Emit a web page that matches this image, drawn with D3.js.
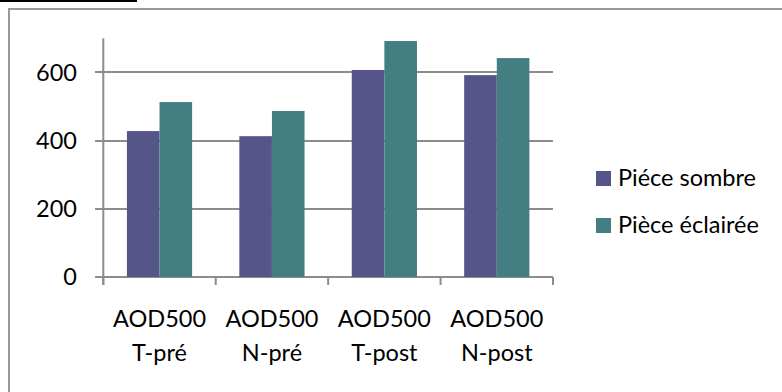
<!DOCTYPE html>
<html><head><meta charset="utf-8">
<script src="https://cdn.jsdelivr.net/npm/d3@7"></script>
<style>html,body{margin:0;padding:0;background:#fff;}svg{display:block;}</style>
</head><body>
<script>
const categories = [["AOD500","T-pré"],["AOD500","N-pré"],["AOD500","T-post"],["AOD500","N-post"]];
const seriesNames = ["Piéce sombre","Pièce éclairée"];
const sombre = [428, 413, 607, 592];
const eclairee = [513, 487, 692, 642];
const yTicks = [0, 200, 400, 600];
const colors = ["#55558A", "#437E83"];

const W = 782, H = 392;
const svg = d3.select("body").append("svg").attr("width", W).attr("height", H);
const font = "Lato, 'Open Sans', sans-serif";
const fs = 23.5;

// page decoration: cropped header underline and chart frame
svg.append("rect").attr("x",0).attr("y",0).attr("width",137).attr("height",2).attr("fill","#000");
svg.append("path").attr("d", "M9,400 V9 H800").attr("fill","none").attr("stroke","#9a9a9a").attr("stroke-width",2);

const x0 = 103.3, x1 = 553, yTop = 38.3, yBot = 277;
const y = d3.scaleLinear().domain([0,700]).range([yBot, yTop]);
const xb = d3.scaleBand().domain(d3.range(categories.length)).range([x0, x1]).paddingInner(0.42).paddingOuter(0.21);
const xs = d3.scaleBand().domain([0,1]).range([0, xb.bandwidth()]);
const gridC = "#8c8c8c";

// gridlines + y ticks
const g = svg.append("g");
g.selectAll("line.grid").data(yTicks).join("line")
  .attr("x1", 95).attr("x2", x1).attr("y1", d => Math.round(y(d))).attr("y2", d => Math.round(y(d)))
  .attr("stroke", gridC).attr("stroke-width", 2);
g.selectAll("text.yl").data(yTicks).join("text")
  .attr("x", 77).attr("y", d => y(d)).attr("dy", "0.36em").attr("text-anchor","end")
  .attr("font-family", font).attr("font-size", fs).attr("fill","#000").text(d => d);

// bars
const data = [sombre, eclairee];
data.forEach((vals, si) => {
  svg.append("g").selectAll("rect").data(vals).join("rect")
    .attr("x", (d,i) => xb(i) + xs(si)).attr("width", xs.bandwidth())
    .attr("y", d => y(d)).attr("height", d => y(0) - y(d))
    .attr("fill", colors[si]);
});

// axes lines
svg.append("line").attr("x1", x0).attr("x2", x0).attr("y1", yTop).attr("y2", 285).attr("stroke", gridC).attr("stroke-width", 2);
const bounds = d3.range(categories.length + 1).map(i => x0 + i * (x1 - x0) / categories.length);
svg.selectAll("line.xt").data(bounds).join("line")
  .attr("x1", d => d).attr("x2", d => d).attr("y1", yBot).attr("y2", 285)
  .attr("stroke", gridC).attr("stroke-width", 2);

// x labels
const xl = svg.append("g").selectAll("text").data(categories).join("text")
  .attr("x", (d,i) => xb(i) + xb.bandwidth()/2).attr("y", 327)
  .attr("text-anchor","middle").attr("font-family", font).attr("font-size", fs).attr("fill","#000");
xl.selectAll("tspan").data(d => d).join("tspan")
  .attr("x", function(){ return this.parentNode.getAttribute("x"); })
  .attr("dy", (d,i) => i === 0 ? 0 : 33.5).text(d => d);

// legend
const lg = svg.append("g");
seriesNames.forEach((n, i) => {
  lg.append("rect").attr("x", 596).attr("y", 171 + i*47).attr("width", 15).attr("height", 15).attr("fill", colors[i]);
  lg.append("text").attr("x", 618).attr("y", 186 + i*47).attr("font-family", font).attr("font-size", fs).attr("fill","#000").text(n);
});
</script>
</body></html>
